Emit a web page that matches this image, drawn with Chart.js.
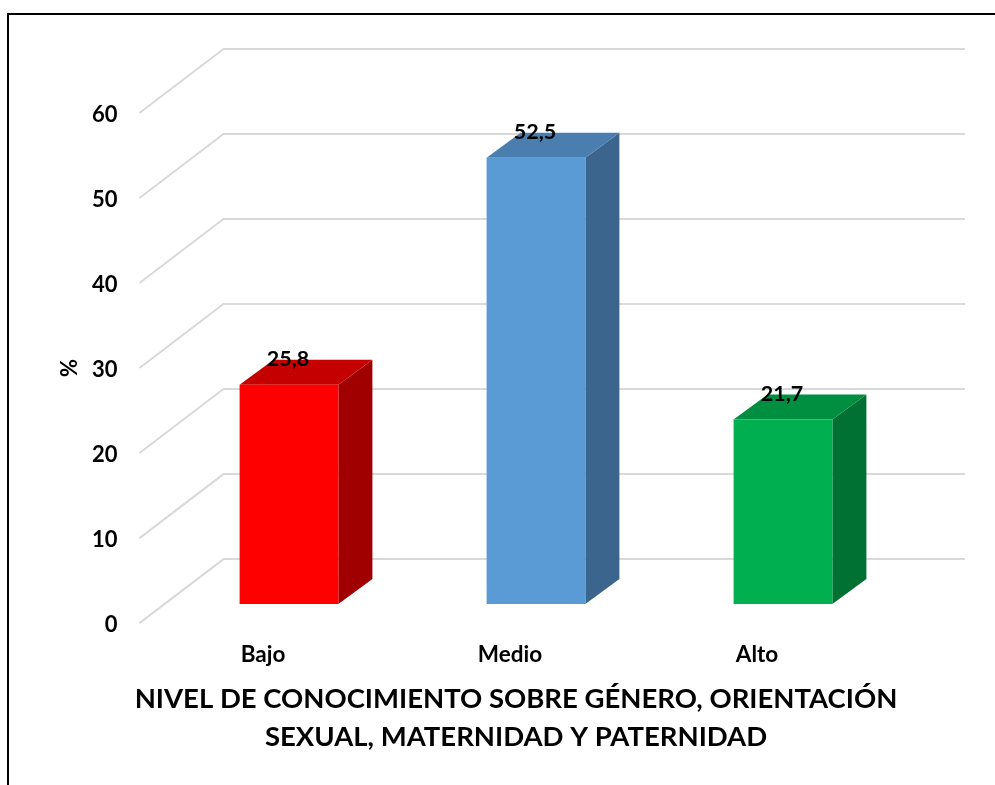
<!DOCTYPE html>
<html><head><meta charset="utf-8">
<script src="https://cdn.jsdelivr.net/npm/chart.js@4"></script>
<style>
html,body{margin:0;padding:0;background:#fff;overflow:hidden}
#wrap{position:relative;width:995px;height:785px}
#frame{position:absolute;left:7px;top:13px;right:0;bottom:0;border-left:2px solid #000;border-top:2px solid #000}
canvas{position:absolute;left:0;top:0}
</style></head><body>
<div id="wrap"><div id="frame"></div><canvas id="c" width="995" height="785"></canvas></div>
<script>
const categories=['Bajo','Medio','Alto'];
const values=[25.8,52.5,21.7];
const labels=['25,8','52,5','21,7'];
const frontColors=['#ff0000','#5b9bd5','#00b050'];
const topColors=['#c40000','#4a7eae','#008f41'];
const sideColors=['#a00000','#3b658c','#007033'];
const yTicks=[0,10,20,30,40,50,60];
const axisTitle='%';
const chartTitle=['NIVEL DE CONOCIMIENTO SOBRE GÉNERO, ORIENTACIÓN','SEXUAL, MATERNIDAD Y PATERNIDAD'];
const FONT='Lato, Carlito, sans-serif';
const DX=34,DY=25,FLOOR=19,WX=84,WY=64,WALL_RIGHT=965;

const depth={id:'depth',
 afterLayout(chart){
  const t=chart.titleBlock; t.left=37; t.right=995;
 },
 beforeDatasetsDraw(chart){
  const {ctx,scales:{y}}=chart, a=chart.chartArea;
  ctx.save();ctx.strokeStyle='#d9d9d9';ctx.lineWidth=2;
  yTicks.forEach(v=>{const p=y.getPixelForValue(v);
   ctx.beginPath();ctx.moveTo(a.left-26,p);ctx.lineTo(a.left-26+WX,p-WY);ctx.lineTo(WALL_RIGHT,p-WY);ctx.stroke();});
  ctx.restore();
  ctx.save();ctx.translate(0,-FLOOR);
  chart.getDatasetMeta(0).data.forEach((b,i)=>{
   const l=b.x-b.width/2,r=b.x+b.width/2,t=b.y,bt=b.base;
   ctx.fillStyle=sideColors[i];ctx.beginPath();ctx.moveTo(r,t);ctx.lineTo(r+DX,t-DY);ctx.lineTo(r+DX,bt-DY);ctx.lineTo(r,bt);ctx.closePath();ctx.fill();
   ctx.fillStyle=topColors[i];ctx.beginPath();ctx.moveTo(l,t);ctx.lineTo(l+DX,t-DY);ctx.lineTo(r+DX,t-DY);ctx.lineTo(r,t);ctx.closePath();ctx.fill();
  });
  ctx.restore();
 },
 beforeDatasetDraw(chart){chart.ctx.save();chart.ctx.translate(0,-FLOOR);},
 afterDatasetDraw(chart){chart.ctx.restore();},
 afterDatasetsDraw(chart){
  const ctx=chart.ctx;ctx.save();ctx.font='bold 21.5px '+FONT;ctx.fillStyle='#000';ctx.textAlign='center';ctx.textBaseline='middle';
  chart.getDatasetMeta(0).data.forEach((b,i)=>ctx.fillText(labels[i],b.x-1,b.y-FLOOR-26));
  ctx.restore();
 }
};
new Chart(document.getElementById('c'),{
 type:'bar',
 data:{labels:categories,datasets:[{data:values,backgroundColor:frontColors,borderWidth:0,barPercentage:0.8,categoryPercentage:0.5}]},
 plugins:[depth],
 options:{responsive:false,animation:false,
  layout:{padding:{left:57,right:88.5,top:113,bottom:0}},
  plugins:{legend:{display:false},tooltip:{enabled:false},
   title:{display:true,position:'bottom',text:chartTitle,color:'#000',font:{family:FONT,size:27.5,weight:'bold',lineHeight:1.38},padding:{top:0,bottom:29}}},
  scales:{
   x:{grid:{display:false},border:{display:false},
      afterFit(s){s.height=57;},
      ticks:{color:'#000',font:{family:FONT,size:22.5,weight:'bold'},labelOffset:-26,padding:10,maxRotation:0}},
   y:{min:0,max:60,grid:{display:false},border:{display:false},
      afterFit(s){s.width=108.5;},
      afterBuildTicks(s){s.ticks=yTicks.map(v=>({value:v}));},
      ticks:{color:'#000',font:{family:FONT,size:22,weight:'bold'},padding:40,labelOffset:2},
      title:{display:true,text:axisTitle,color:'#000',font:{family:FONT,size:22,weight:'bold'},padding:0}}
  }}
});
</script></body></html>
